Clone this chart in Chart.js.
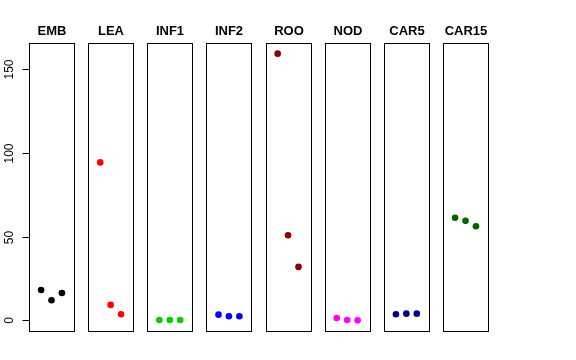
<!DOCTYPE html>
<html>
<head>
<meta charset="utf-8">
<script src="https://cdn.jsdelivr.net/npm/chart.js@4.4.0/dist/chart.umd.min.js"></script>
<style>
  html, body { margin: 0; padding: 0; background: #fff; }
  #wrap { width: 576px; height: 360px; position: relative; }
</style>
</head>
<body>
<div id="wrap"><canvas id="stripChart" width="576" height="360"></canvas></div>
<script>
// panel names and the three values in each panel
const categories = ['EMB', 'LEA', 'INF1', 'INF2', 'ROO', 'NOD', 'CAR5', 'CAR15'];
const emb   = [18.1, 12.0, 16.3];
const lea   = [94.3, 9.2, 3.6];
const inf1  = [0.2, 0.2, 0.2];
const inf2  = [3.4, 2.4, 2.4];
const roo   = [159.2, 50.8, 31.9];
const nod   = [1.4, 0.2, 0.0];
const car5  = [3.6, 4.0, 4.0];
const car15 = [61.2, 59.4, 56.2];
const yTicks = [0, 50, 100, 150];

const seriesValues = [emb, lea, inf1, inf2, roo, nod, car5, car15];
const colors = ['#000000', '#ff0000', '#00cd00', '#0000ff', '#8b0000', '#ff00ff', '#00008b', '#006400'];

// each panel spans -0.16..4.16 in local units, panels offset by GAP units
const GAP = 5.676;
const LO = -0.16, HI = 4.16;

const datasets = seriesValues.map((vals, k) => ({
    label: categories[k],
    data: vals.map((v, i) => ({ x: k * GAP + i + 1, y: v })),
    backgroundColor: colors[k],
    borderWidth: 0,
    pointRadius: 3.3,
    pointHoverRadius: 3.3
}));

// boxes, panel titles and the left axis, R style
const panelPlugin = {
    id: 'panels',
    beforeDatasetsDraw(chart) {
        const ctx = chart.ctx;
        const xs = chart.scales.x, ys = chart.scales.y;
        const top = chart.chartArea.top, bottom = chart.chartArea.bottom;
        ctx.save();
        ctx.strokeStyle = '#000';
        ctx.lineWidth = 1;
        categories.forEach((name, k) => {
            const x0 = Math.round(xs.getPixelForValue(k * GAP + LO)) + 0.5;
            const x1 = Math.round(xs.getPixelForValue(k * GAP + HI)) + 0.5;
            ctx.strokeRect(x0, Math.round(top) + 0.5, x1 - x0, Math.round(bottom - top));
            ctx.fillStyle = '#000';
            ctx.font = 'bold 13px "Liberation Sans", Arial, sans-serif';
            ctx.textAlign = 'center';
            ctx.textBaseline = 'alphabetic';
            ctx.fillText(name, (x0 + x1) / 2, 35);
        });
        // y axis ticks and rotated labels
        const ax = Math.round(xs.getPixelForValue(LO)) + 0.5;
        ctx.font = '12px "Liberation Sans", Arial, sans-serif';
        yTicks.forEach(t => {
            const py = Math.round(ys.getPixelForValue(t)) + 0.5;
            ctx.beginPath();
            ctx.moveTo(ax - 7, py);
            ctx.lineTo(ax, py);
            ctx.stroke();
            ctx.save();
            ctx.translate(13, py);
            ctx.rotate(-Math.PI / 2);
            ctx.textAlign = 'center';
            ctx.textBaseline = 'alphabetic';
            ctx.fillText(String(t), 0, 0);
            ctx.restore();
        });
        ctx.restore();
    }
};

const stripCtx = document.getElementById('stripChart').getContext('2d');
const stripChart = new Chart(stripCtx, {
    type: 'scatter',
    data: { datasets: datasets },
    options: {
        responsive: false,
        animation: false,
        layout: { padding: { left: 29, right: 88, top: 43, bottom: 29 } },
        plugins: {
            legend: { display: false },
            tooltip: { enabled: false }
        },
        scales: {
            x: { type: 'linear', display: false, min: LO, max: 7 * GAP + HI },
            y: { type: 'linear', display: false, min: -6.37, max: 165.57 }
        }
    },
    plugins: [panelPlugin]
});
</script>
</body>
</html>
